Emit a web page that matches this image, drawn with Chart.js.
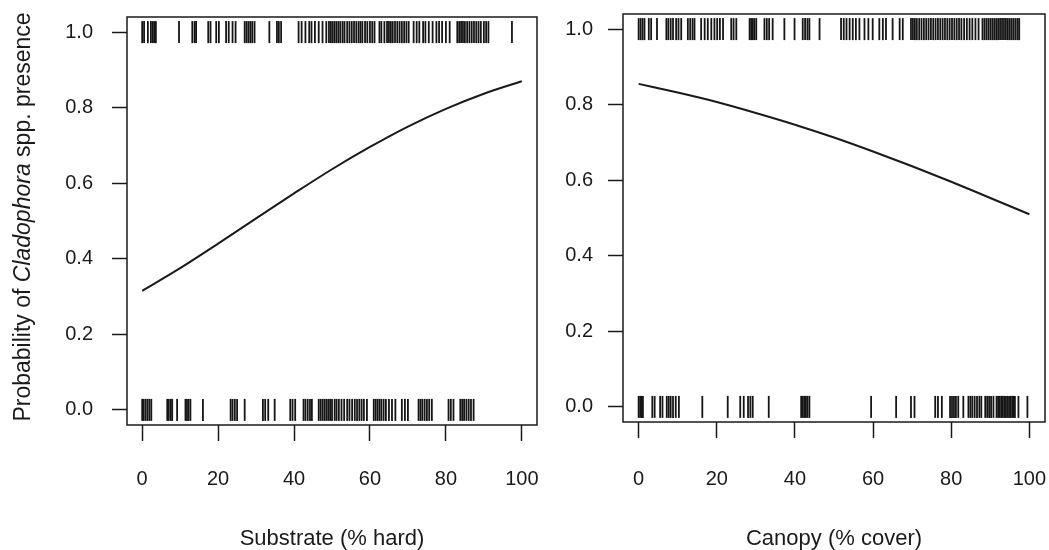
<!DOCTYPE html>
<html>
<head>
<meta charset="utf-8">
<script src="https://cdn.jsdelivr.net/npm/chart.js@4.4.1/dist/chart.umd.min.js"></script>
<style>
  html, body { margin: 0; padding: 0; background: #fff; }
  #wrap { position: relative; width: 1049px; height: 550px; }
  canvas { position: absolute; top: 0; }
</style>
</head>
<body>
<div id="wrap">
  <canvas id="leftChart" width="560" height="550" style="left:0"></canvas>
  <canvas id="rightChart" width="489" height="550" style="left:560px"></canvas>
</div>
<script>
// --- data ---
const xTicks = [0, 20, 40, 60, 80, 100];
const yTicks = [0, 0.2, 0.4, 0.6, 0.8, 1.0];

// fitted probability, read every 10 units along x
const curveX = [0, 10, 20, 30, 40, 50, 60, 70, 80, 90, 100];
const substrateFit = [0.315, 0.375, 0.44, 0.507, 0.573, 0.637, 0.696, 0.75, 0.797, 0.837, 0.87];
const canopyFit = [0.855, 0.832, 0.807, 0.778, 0.747, 0.713, 0.676, 0.637, 0.596, 0.553, 0.51];

// observed sites (rug): presence at 1, absence at 0
const substratePresent = [0, 0.5, 1.5, 2.3, 2.8, 3.2, 3.6, 9.7, 13.2, 13.8, 14.2, 17.4, 18, 19.5, 20.2,
  22.1, 22.8, 23.8, 24.6, 27, 27.5, 28, 28.5, 29, 29.6, 33.5, 35.5, 36, 36.6,
  41.2, 42, 43, 44, 44.6, 45.5, 46.5, 47.5, 48.5,
  49.2, 49.7, 50.2, 50.7, 51.2, 51.7, 52.2, 52.8, 53.3, 54, 54.6, 55.2, 55.8, 56.4, 57, 57.5, 58, 58.7, 59.3, 60, 60.6, 61.2,
  62.5, 63, 63.8, 64.5, 65, 65.5, 66, 66.6, 67.2, 67.8, 68.4, 69, 69.6, 70.2,
  71.5, 72.3, 73, 74, 74.6, 75.5, 76.5, 77.5, 78.2, 79, 80, 81,
  83, 83.5, 84, 84.5, 85, 85.6, 86.2, 86.8, 87.4, 88, 88.6, 89.2, 90, 90.6, 91.2, 97.4];
const substrateAbsent = [0, 0.4, 0.9, 1.4, 1.9, 2.4, 6.6, 7, 7.5, 7.9, 9.2, 11.4, 11.8, 12.2, 12.7, 16,
  23.3, 23.8, 24.4, 25, 27, 31.8, 32.4, 33.2, 34.9, 39, 39.6, 40.3, 42.5, 43, 43.6, 44.2, 44.7,
  46.5, 47, 47.5, 48, 48.5, 49, 49.5, 50, 50.7, 51.2, 51.8, 52.5, 53.2, 54, 54.6, 55.3,
  56, 56.6, 57.2, 57.8, 58.4, 59.2, 61, 61.5, 62, 62.5, 63, 63.6, 64.2, 65, 65.8, 66.7,
  68.4, 69.2, 70, 72.8, 73.3, 73.8, 74.4, 75, 75.6, 76.3, 80.7, 81.3, 82,
  83.8, 84.3, 84.8, 85.4, 86, 86.6, 87.3];
const canopyPresent = [0, 0.5, 1, 1.5, 2.6, 3.2, 4.7, 7.1, 7.6, 8.2, 8.8, 9.6, 10.2, 10.9,
  12.6, 13.2, 13.8, 14.3, 16, 16.9, 17.7, 18.6, 19.4, 20.1, 20.8, 21.6, 23.7, 24.3, 25,
  28.4, 28.8, 29.2, 29.6, 30.1, 32.2, 32.8, 33.4, 34.3, 37.3, 39.9, 42, 42.6, 43.2, 43.7, 46.3,
  51.8, 52.5, 53.2, 54, 54.8, 55.6, 56.5, 57.8, 58.8, 59.9, 61.6, 62.5, 63.3, 65, 66.8, 67.6,
  69.7, 70.2, 70.7, 71.2, 71.8, 72.4, 73, 73.6, 74.2, 74.8, 75.4, 76, 76.6, 77.2, 77.8, 78.4, 79, 79.6,
  80.2, 80.8, 81.4, 82, 82.6, 83.3, 84, 84.7, 85.4, 86.2, 87,
  88, 88.5, 89, 89.5, 90, 90.5, 91, 91.5, 92, 92.5, 93, 93.5, 94, 94.5, 95, 95.5, 96, 96.5, 97, 97.4];
const canopyAbsent = [0, 0.4, 0.8, 1.1, 3.5, 4.1, 5.5, 6.1, 7.2, 7.7, 8.2, 8.8, 9.5, 10.3, 16.3,
  22.8, 26, 26.9, 28, 28.6, 29.2, 33.3, 41.6, 42, 42.4, 42.8, 43.2, 43.7, 59.5, 65.9, 69.7, 70.6,
  75.9, 76.6, 77.6, 79.7, 80.2, 80.7, 81.2, 81.8, 83.1, 84.4, 84.9, 85.4, 86, 86.6, 87.2, 87.7,
  88.7, 89.2, 89.7, 90.2, 90.8, 91.6, 92, 92.4, 92.8, 93.2, 93.6, 94, 94.4, 94.8, 95.2, 95.6, 96, 96.3, 97.2, 99.5];

const INK = '#1a1a1a';
const FONT = '"Liberation Sans", Arial, sans-serif';

// box round the plot region
const frame = {
    id: 'frame',
    afterDraw: (chart) => {
        const { ctx, chartArea: a } = chart;
        ctx.save();
        ctx.strokeStyle = INK;
        ctx.lineWidth = 1.5;
        ctx.strokeRect(a.left, a.top, a.right - a.left, a.bottom - a.top);
        ctx.restore();
    }
};

// y title with italic genus name
const yTitle = {
    id: 'yTitle',
    afterDraw: (chart) => {
        const { ctx } = chart;
        const parts = [
            ['Probability of ', 'normal'],
            ['Cladophora', 'italic'],
            [' spp. presence', 'normal']
        ];
        ctx.save();
        ctx.fillStyle = INK;
        ctx.textBaseline = 'middle';
        ctx.textAlign = 'left';
        let total = 0;
        parts.forEach(p => { ctx.font = p[1] + ' 23px ' + FONT; total += ctx.measureText(p[0]).width; });
        ctx.translate(24, 217);
        ctx.rotate(-Math.PI / 2);
        let x = -total / 2;
        parts.forEach(p => {
            ctx.font = p[1] + ' 23px ' + FONT;
            ctx.fillText(p[0], x, 0);
            x += ctx.measureText(p[0]).width;
        });
        ctx.restore();
    }
};

function rug(values, level) {
    return {
        data: values.map(v => ({ x: v, y: level })),
        pointStyle: 'line',
        rotation: 90,
        radius: 11,
        hoverRadius: 11,
        borderColor: '#151515',
        borderWidth: 1.8,
        showLine: false
    };
}

// stop the scales from shrinking the plot region for label overhang
function noPad(s) {
    s.paddingLeft = 0;
    s.paddingRight = 0;
    s.paddingTop = 0;
    s.paddingBottom = 0;
}

function makePanel(id, fit, present, absent, xTitle, p) {
    const data = {
        datasets: [
            rug(present, 1),
            rug(absent, 0),
            {
                data: curveX.map((x, i) => ({ x: x, y: fit[i] })),
                showLine: true,
                borderColor: INK,
                borderWidth: 2,
                pointRadius: 0,
                cubicInterpolationMode: 'monotone'
            }
        ]
    };

    const config = {
        type: 'scatter',
        data: data,
        options: {
            responsive: false,
            animation: false,
            layout: { autoPadding: false, padding: { top: p.top, right: p.right, left: 0, bottom: 0 } },
            scales: {
                x: {
                    type: 'linear',
                    min: -4,
                    max: 104,
                    afterBuildTicks: (s) => { s.ticks = xTicks.map(v => ({ value: v })); },
                    afterFit: (s) => { s.height = p.xHeight; noPad(s); },
                    border: { display: false },
                    grid: { drawOnChartArea: false, drawTicks: true, tickLength: 16, tickColor: INK, tickWidth: 1.5 },
                    ticks: { color: INK, padding: p.xPad, font: { family: FONT, size: 20 }, maxRotation: 0 },
                    title: {
                        display: true,
                        text: xTitle,
                        color: INK,
                        font: { family: FONT, size: 22, lineHeight: 1 },
                        padding: { top: 0, bottom: 0 }
                    }
                },
                y: {
                    type: 'linear',
                    min: -0.04,
                    max: 1.04,
                    afterBuildTicks: (s) => { s.ticks = yTicks.map(v => ({ value: v })); },
                    afterFit: (s) => { s.width = p.yWidth; noPad(s); },
                    border: { display: false },
                    grid: { drawOnChartArea: false, drawTicks: true, tickLength: 15, tickColor: INK, tickWidth: 1.5 },
                    ticks: {
                        color: INK,
                        padding: p.yPad,
                        font: { family: FONT, size: 20 },
                        callback: (v) => v.toFixed(1)
                    }
                }
            },
            plugins: {
                legend: { display: false },
                tooltip: { enabled: false }
            }
        },
        plugins: p.withTitle ? [frame, yTitle] : [frame]
    };

    return new Chart(document.getElementById(id).getContext('2d'), config);
}

makePanel('leftChart', substrateFit, substratePresent, substrateAbsent, 'Substrate (% hard)',
    { top: 17, right: 23, xHeight: 125, yWidth: 127, xPad: 26, yPad: 19, withTitle: true });
makePanel('rightChart', canopyFit, canopyPresent, canopyAbsent, 'Canopy (% cover)',
    { top: 14, right: 4, xHeight: 128, yWidth: 63, xPad: 29, yPad: 15, withTitle: false });
</script>
</body>
</html>
